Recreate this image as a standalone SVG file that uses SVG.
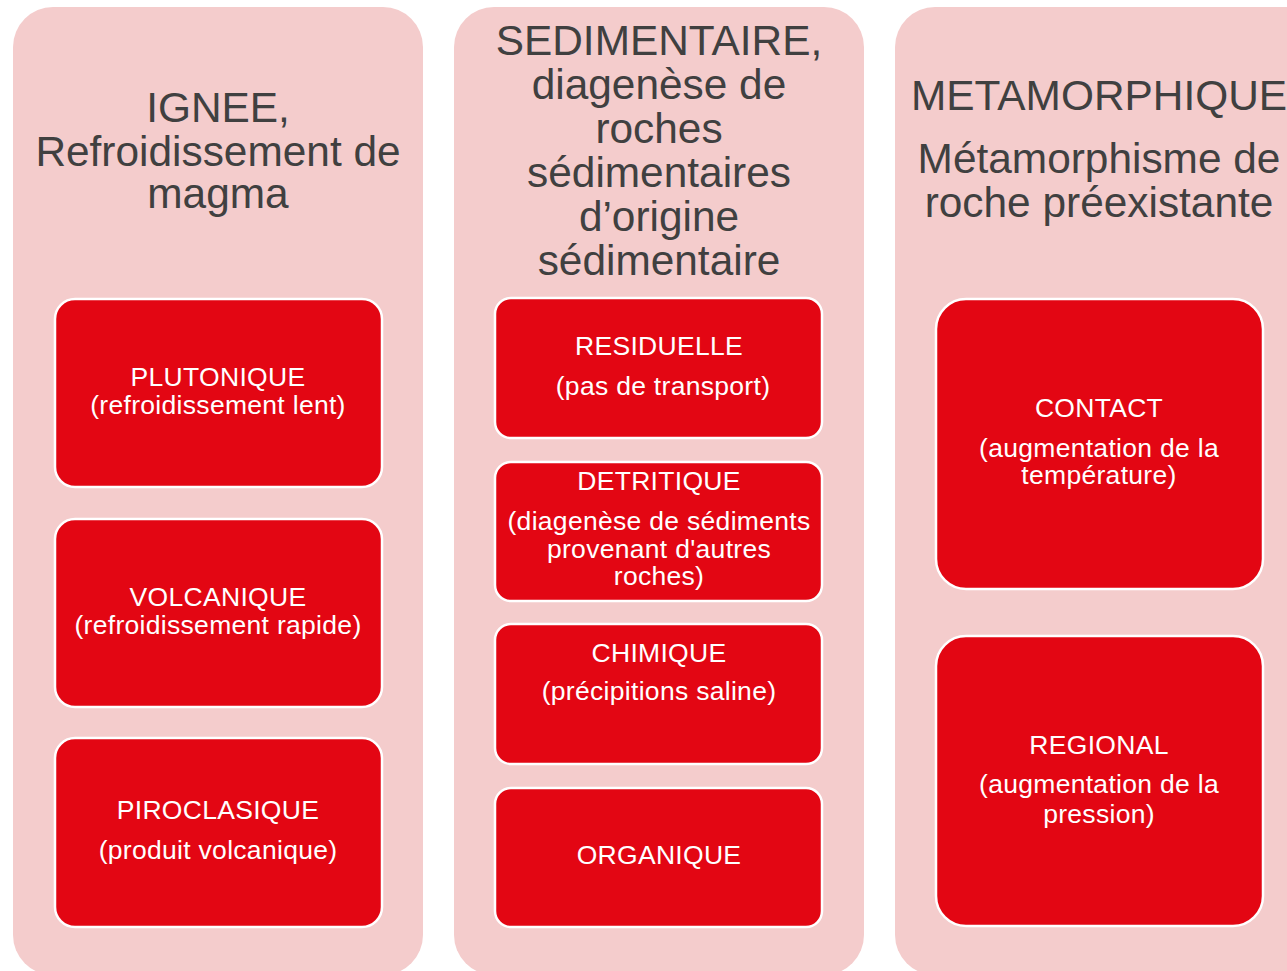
<svg xmlns="http://www.w3.org/2000/svg" width="1287" height="971" viewBox="0 0 1287 971">
<style>
.col{fill:#F4CCCC}
.box{fill:#E30613;stroke:#FFFFFF;stroke-width:2.5}
.t{font-family:"Liberation Sans",Arial,sans-serif;font-size:42.4px;fill:#404040;text-anchor:middle}
.b{font-family:"Liberation Sans",Arial,sans-serif;font-size:26.5px;fill:#FFFFFF;text-anchor:middle;letter-spacing:0.3px}
</style>
<rect width="1287" height="971" fill="#FFFFFF"/>
<g id="col-ignee">
<rect class="col" x="13" y="7" width="410" height="968" rx="40"/>
<text class="t" x="218" y="122">IGNEE,</text>
<text class="t" x="218" y="166">Refroidissement de</text>
<text class="t" x="218" y="208">magma</text>
</g>
<g id="col-sedimentaire">
<rect class="col" x="454" y="7" width="410" height="968" rx="40"/>
<text class="t" x="659" y="55">SEDIMENTAIRE,</text>
<text class="t" x="659" y="99">diagenèse de</text>
<text class="t" x="659" y="143">roches</text>
<text class="t" x="659" y="187">sédimentaires</text>
<text class="t" x="659" y="231">d’origine</text>
<text class="t" x="659" y="275">sédimentaire</text>
</g>
<g id="col-metamorphique">
<rect class="col" x="895" y="7" width="430" height="968" rx="40"/>
<text class="t" x="1099" y="110">METAMORPHIQUE</text>
<text class="t" x="1099" y="173">Métamorphisme de</text>
<text class="t" x="1099" y="217">roche préexistante</text>
</g>
<g id="plutonique">
<rect class="box" x="55" y="299" width="327" height="188" rx="20"/>
<text class="b" x="218" y="386">PLUTONIQUE</text>
<text class="b" x="218" y="414">(refroidissement lent)</text>
</g>
<g id="volcanique">
<rect class="box" x="55" y="519" width="327" height="188" rx="20"/>
<text class="b" x="218" y="606">VOLCANIQUE</text>
<text class="b" x="218" y="634">(refroidissement rapide)</text>
</g>
<g id="piroclasique">
<rect class="box" x="55" y="738" width="327" height="189" rx="20"/>
<text class="b" x="218" y="819">PIROCLASIQUE</text>
<text class="b" x="218" y="859">(produit volcanique)</text>
</g>
<g id="residuelle">
<rect class="box" x="495" y="298" width="327" height="140" rx="16"/>
<text class="b" x="659" y="355">RESIDUELLE</text>
<text class="b" x="663" y="395">(pas de transport)</text>
</g>
<g id="detritique">
<rect class="box" x="495" y="462" width="327" height="139" rx="16"/>
<text class="b" x="659" y="490">DETRITIQUE</text>
<text class="b" x="659" y="530">(diagenèse de sédiments</text>
<text class="b" x="659" y="558">provenant d'autres</text>
<text class="b" x="659" y="585">roches)</text>
</g>
<g id="chimique">
<rect class="box" x="495" y="624" width="327" height="140" rx="16"/>
<text class="b" x="659" y="662">CHIMIQUE</text>
<text class="b" x="659" y="700">(précipitions saline)</text>
</g>
<g id="organique">
<rect class="box" x="495" y="788" width="327" height="139" rx="16"/>
<text class="b" x="659" y="864">ORGANIQUE</text>
</g>
<g id="contact">
<rect class="box" x="936" y="299" width="327" height="290" rx="30"/>
<text class="b" x="1099" y="417">CONTACT</text>
<text class="b" x="1099" y="457">(augmentation de la</text>
<text class="b" x="1099" y="484">température)</text>
</g>
<g id="regional">
<rect class="box" x="936" y="636" width="327" height="290" rx="30"/>
<text class="b" x="1099" y="754">REGIONAL</text>
<text class="b" x="1099" y="793">(augmentation de la</text>
<text class="b" x="1099" y="823">pression)</text>
</g>
<g id="connectors"></g>
</svg>
